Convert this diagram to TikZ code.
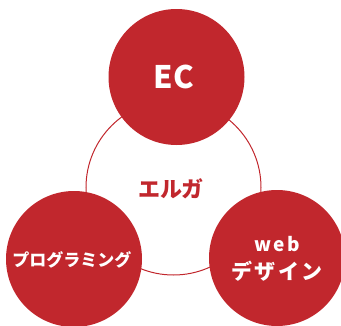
\documentclass[tikz,border=0pt]{standalone}
\usepackage{fontspec}
\newfontfamily\jp{Noto Sans CJK JP}
\definecolor{ered}{HTML}{C1272D}
\begin{document}
\begin{tikzpicture}[x=1pt,y=-1pt,
  bigdisc/.style={circle,fill=ered,minimum size=136pt,inner sep=0pt},
  lbl/.style={text=white,font=\jp\bfseries,align=center}]
\useasboundingbox (0,0) rectangle (341,325);
\begin{scope}
\clip (0,0) rectangle (341,325);
\node[circle,draw=ered,line width=1pt,minimum size=175pt,inner sep=0pt] (core) at (173.5,187.5) {};
\node[bigdisc] (ec) at (176.5,77) {};
\node[bigdisc] (prog) at (74,259) {};
\node[bigdisc] (web) at (277,258) {};
\end{scope}
\node[lbl,font=\jp\bfseries\fontsize{31}{33}\selectfont] (ect) at (174,77) {EC};
\node[text=ered,font=\jp\bfseries\fontsize{22}{24}\selectfont] (elg) at (171,189) {エルガ};
\node[lbl,font=\jp\bfseries\fontsize{17}{18}\selectfont] (progt) at (72,260) {プログラミング};
\node[lbl,font=\jp\bfseries\fontsize{19}{20}\selectfont] (webt) at (277,244) {\addfontfeature{LetterSpace=14}web};
\node[lbl,font=\jp\bfseries\fontsize{21}{22}\selectfont] (dzt) at (277,271) {\addfontfeature{LetterSpace=10}デザイン};
\end{tikzpicture}
\end{document}
